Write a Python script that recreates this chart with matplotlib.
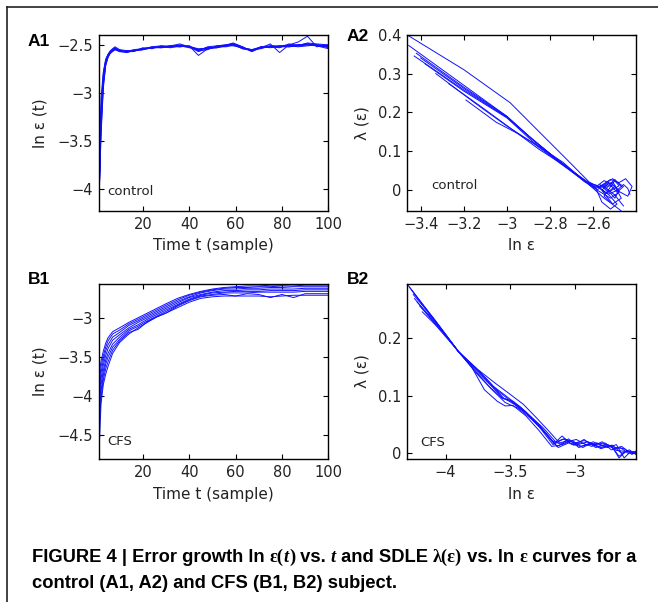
import numpy as np
import matplotlib
matplotlib.use('Agg')
import matplotlib.pyplot as plt
from matplotlib.ticker import FuncFormatter
from matplotlib.lines import Line2D

# ---- data ----
# A1: error growth, control subject
t_a1 = [1, 2, 3, 4, 5, 6, 8, 10, 13, 16, 20, 24, 28, 32, 36, 40, 44, 48, 52, 56,
        59, 63, 67, 71, 75, 79, 83, 87, 91, 95, 100]
a1_curves = [
    [-4.23, -3.25, -2.85, -2.68, -2.61, -2.57, -2.53, -2.56, -2.57, -2.56, -2.54, -2.53, -2.52, -2.52, -2.51, -2.52,
     -2.55, -2.53, -2.52, -2.51, -2.49, -2.53, -2.56, -2.53, -2.52, -2.52, -2.51, -2.50, -2.49, -2.50, -2.51],
    [-4.23, -3.35, -2.90, -2.70, -2.62, -2.58, -2.54, -2.57, -2.58, -2.56, -2.55, -2.53, -2.53, -2.51, -2.52, -2.51,
     -2.61, -2.54, -2.53, -2.51, -2.50, -2.54, -2.55, -2.52, -2.53, -2.51, -2.52, -2.51, -2.50, -2.51, -2.52],
    [-4.23, -3.15, -2.80, -2.66, -2.60, -2.56, -2.52, -2.55, -2.56, -2.57, -2.53, -2.54, -2.51, -2.52, -2.50, -2.52,
     -2.56, -2.55, -2.51, -2.50, -2.48, -2.52, -2.57, -2.53, -2.49, -2.58, -2.50, -2.47, -2.41, -2.52, -2.50],
    [-4.23, -3.45, -2.95, -2.72, -2.63, -2.59, -2.55, -2.57, -2.57, -2.55, -2.54, -2.52, -2.53, -2.52, -2.51, -2.53,
     -2.55, -2.53, -2.52, -2.52, -2.50, -2.53, -2.55, -2.54, -2.51, -2.52, -2.51, -2.52, -2.51, -2.50, -2.53],
    [-4.23, -3.05, -2.78, -2.65, -2.60, -2.57, -2.54, -2.55, -2.58, -2.56, -2.55, -2.53, -2.52, -2.51, -2.49, -2.52,
     -2.56, -2.52, -2.51, -2.50, -2.49, -2.54, -2.56, -2.52, -2.52, -2.53, -2.49, -2.51, -2.48, -2.49, -2.50],
    [-4.23, -3.30, -2.88, -2.69, -2.62, -2.58, -2.55, -2.56, -2.57, -2.57, -2.54, -2.53, -2.52, -2.53, -2.51, -2.52,
     -2.54, -2.54, -2.52, -2.51, -2.51, -2.53, -2.56, -2.53, -2.52, -2.52, -2.52, -2.51, -2.50, -2.51, -2.54],
    [-4.23, -3.20, -2.83, -2.67, -2.61, -2.57, -2.53, -2.57, -2.56, -2.56, -2.55, -2.52, -2.51, -2.52, -2.52, -2.51,
     -2.55, -2.53, -2.53, -2.50, -2.49, -2.52, -2.57, -2.52, -2.51, -2.51, -2.50, -2.50, -2.49, -2.50, -2.51],
    [-4.23, -3.40, -2.92, -2.71, -2.63, -2.58, -2.54, -2.56, -2.57, -2.56, -2.54, -2.53, -2.52, -2.51, -2.51, -2.52,
     -2.57, -2.54, -2.52, -2.51, -2.50, -2.53, -2.55, -2.53, -2.52, -2.52, -2.51, -2.50, -2.49, -2.51, -2.52],
]

# A2: SDLE vs ln eps, control subject (x, y per curve)
a2_x = [
    [-3.465, -3.20, -2.985, -2.85, -2.72, -2.62, -2.57, -2.53, -2.49, -2.46, -2.44, -2.43],
    [-3.455, -3.20, -3.00, -2.90, -2.78, -2.66, -2.59, -2.55, -2.51, -2.48, -2.50, -2.54, -2.50, -2.47],
    [-3.42, -3.20, -3.00, -2.88, -2.76, -2.64, -2.58, -2.53, -2.49, -2.46, -2.50, -2.55, -2.52],
    [-3.40, -3.20, -3.00, -2.87, -2.74, -2.63, -2.57, -2.52, -2.48, -2.45, -2.42, -2.44, -2.49],
    [-3.38, -3.20, -3.00, -2.88, -2.75, -2.63, -2.58, -2.54, -2.50, -2.47, -2.51, -2.56, -2.53],
    [-3.33, -3.15, -3.00, -2.88, -2.75, -2.63, -2.58, -2.52, -2.48, -2.51, -2.55, -2.50, -2.46],
    [-3.27, -3.12, -2.95, -2.85, -2.74, -2.65, -2.59, -2.55, -2.51, -2.48, -2.53, -2.57, -2.54],
    [-3.19, -3.05, -2.95, -2.85, -2.74, -2.64, -2.59, -2.56, -2.52, -2.49, -2.53, -2.58, -2.50],
    [-3.43, -3.20, -3.00, -2.88, -2.76, -2.65, -2.60, -2.55, -2.50, -2.47],
]
a2_y = [
    [0.400, 0.310, 0.225, 0.150, 0.078, 0.022, 0.005, -0.010, 0.000, 0.015, 0.005, -0.010],
    [0.372, 0.270, 0.190, 0.140, 0.085, 0.035, 0.008, 0.025, 0.015, 0.000, -0.020, 0.005, 0.028, 0.010],
    [0.352, 0.265, 0.190, 0.130, 0.075, 0.025, 0.002, 0.020, -0.005, 0.010, 0.025, -0.015, -0.030],
    [0.340, 0.262, 0.188, 0.125, 0.068, 0.020, 0.010, 0.028, 0.020, 0.030, 0.010, -0.015, 0.000],
    [0.325, 0.255, 0.186, 0.125, 0.070, 0.022, 0.012, -0.008, 0.010, -0.020, -0.035, 0.000, 0.018],
    [0.300, 0.225, 0.165, 0.122, 0.068, 0.020, 0.000, -0.020, -0.005, 0.022, 0.010, -0.012, -0.040],
    [0.274, 0.215, 0.146, 0.112, 0.072, 0.028, 0.005, 0.015, 0.030, 0.012, -0.005, 0.015, 0.005],
    [0.232, 0.175, 0.146, 0.105, 0.066, 0.022, 0.008, -0.030, -0.048, -0.035, -0.010, 0.010, 0.012],
    [0.345, 0.258, 0.188, 0.130, 0.075, 0.028, 0.005, -0.020, -0.040, -0.053],
]

# B1: error growth, CFS subject
t_b1 = [1, 2, 3, 4, 5, 7, 10, 14, 18, 22, 26, 30, 35, 40, 45, 50, 55, 60, 65, 70, 75, 80, 85, 90, 95, 100]
b1_curves = [
    [-3.75, -3.55, -3.42, -3.32, -3.25, -3.17, -3.12, -3.05, -2.99, -2.93, -2.87, -2.81, -2.74, -2.69, -2.65,
     -2.62, -2.60, -2.59, -2.58, -2.58, -2.57, -2.57, -2.56, -2.56, -2.55, -2.56],
    [-3.90, -3.62, -3.48, -3.37, -3.29, -3.20, -3.15, -3.07, -3.01, -2.95, -2.89, -2.83, -2.76, -2.70, -2.66,
     -2.63, -2.61, -2.60, -2.60, -2.59, -2.59, -2.58, -2.58, -2.57, -2.57, -2.57],
    [-4.00, -3.70, -3.54, -3.42, -3.34, -3.24, -3.18, -3.09, -3.03, -2.97, -2.91, -2.85, -2.78, -2.72, -2.67,
     -2.64, -2.62, -2.62, -2.61, -2.61, -2.60, -2.60, -2.59, -2.59, -2.59, -2.59],
    [-4.10, -3.78, -3.60, -3.48, -3.39, -3.28, -3.21, -3.12, -3.05, -2.99, -2.93, -2.87, -2.80, -2.73, -2.69,
     -2.66, -2.64, -2.64, -2.63, -2.63, -2.62, -2.62, -2.62, -2.61, -2.61, -2.61],
    [-4.20, -3.86, -3.67, -3.54, -3.45, -3.33, -3.24, -3.14, -3.08, -3.01, -2.95, -2.89, -2.82, -2.75, -2.70,
     -2.67, -2.66, -2.65, -2.65, -2.65, -2.64, -2.64, -2.64, -2.63, -2.63, -2.63],
    [-4.30, -3.94, -3.73, -3.59, -3.50, -3.37, -3.27, -3.16, -3.10, -3.03, -2.97, -2.91, -2.83, -2.76, -2.71,
     -2.69, -2.67, -2.67, -2.67, -2.66, -2.66, -2.66, -2.66, -2.65, -2.65, -2.65],
    [-4.50, -4.02, -3.79, -3.65, -3.56, -3.41, -3.29, -3.18, -3.14, -3.04, -2.98, -2.93, -2.84, -2.77, -2.72,
     -2.70, -2.69, -2.71, -2.68, -2.69, -2.73, -2.69, -2.73, -2.68, -2.68, -2.68],
    [-4.82, -4.10, -3.85, -3.72, -3.62, -3.45, -3.31, -3.20, -3.12, -3.05, -2.98, -2.93, -2.86, -2.79, -2.74,
     -2.72, -2.71, -2.71, -2.71, -2.71, -2.72, -2.71, -2.70, -2.70, -2.70, -2.70],
]

# B2: SDLE vs ln eps, CFS subject
b2_x = [
    [-4.30, -4.10, -3.90, -3.75, -3.62, -3.50, -3.40, -3.30, -3.20, -3.12, -3.05, -2.98, -2.90, -2.82, -2.75, -2.68, -2.60, -2.53],
    [-4.26, -4.10, -3.90, -3.75, -3.65, -3.55, -3.45, -3.35, -3.25, -3.15, -3.08, -3.00, -2.93, -2.85, -2.77, -2.70, -2.64, -2.58, -2.53],
    [-4.24, -4.05, -3.90, -3.78, -3.68, -3.55, -3.50, -3.40, -3.30, -3.20, -3.13, -3.05, -2.96, -2.88, -2.80, -2.72, -2.66, -2.60, -2.53],
    [-4.18, -4.00, -3.90, -3.80, -3.70, -3.60, -3.54, -3.48, -3.38, -3.28, -3.18, -3.12, -3.05, -2.97, -2.88, -2.80, -2.72, -2.66, -2.60, -2.53],
    [-4.22, -4.05, -3.90, -3.78, -3.66, -3.56, -3.48, -3.38, -3.28, -3.18, -3.10, -3.02, -2.94, -2.86, -2.78, -2.71, -2.64, -2.58, -2.53],
    [-4.28, -4.10, -3.90, -3.76, -3.64, -3.54, -3.44, -3.34, -3.24, -3.16, -3.09, -3.01, -2.93, -2.84, -2.76, -2.69, -2.62, -2.56, -2.53],
    [-4.20, -4.05, -3.90, -3.77, -3.66, -3.57, -3.47, -3.37, -3.27, -3.17, -3.10, -3.03, -2.95, -2.87, -2.79, -2.72, -2.65, -2.59, -2.53],
    [-4.25, -4.08, -3.90, -3.74, -3.63, -3.52, -3.42, -3.32, -3.22, -3.14, -3.06, -2.99, -2.91, -2.83, -2.75, -2.68, -2.62, -2.57, -2.53],
]
b2_y = [
    [0.294, 0.235, 0.176, 0.145, 0.122, 0.102, 0.085, 0.062, 0.038, 0.018, 0.022, 0.015, 0.020, 0.012, 0.015, 0.005, 0.003, 0.002],
    [0.282, 0.236, 0.176, 0.140, 0.118, 0.100, 0.082, 0.065, 0.045, 0.020, 0.025, 0.018, 0.022, 0.015, 0.018, 0.008, 0.012, 0.002, 0.003],
    [0.268, 0.215, 0.176, 0.150, 0.128, 0.095, 0.092, 0.075, 0.052, 0.028, 0.010, 0.018, 0.012, 0.016, 0.010, 0.013, -0.005, 0.004, 0.001],
    [0.245, 0.205, 0.176, 0.150, 0.110, 0.090, 0.082, 0.083, 0.065, 0.040, 0.012, 0.014, 0.025, 0.010, 0.018, 0.008, 0.014, -0.008, 0.005, 0.000],
    [0.262, 0.220, 0.176, 0.145, 0.115, 0.095, 0.090, 0.072, 0.050, 0.022, 0.015, 0.022, 0.010, 0.020, 0.012, 0.014, 0.000, 0.006, -0.002],
    [0.288, 0.234, 0.176, 0.138, 0.110, 0.088, 0.078, 0.060, 0.038, 0.016, 0.025, 0.014, 0.024, 0.010, 0.016, 0.010, 0.008, -0.002, 0.004],
    [0.255, 0.218, 0.176, 0.148, 0.120, 0.098, 0.085, 0.068, 0.044, 0.015, 0.030, 0.016, 0.018, 0.012, 0.020, 0.006, 0.010, 0.000, 0.002],
    [0.275, 0.230, 0.176, 0.142, 0.116, 0.097, 0.080, 0.058, 0.034, 0.012, 0.020, 0.024, 0.014, 0.018, 0.010, 0.015, -0.008, 0.003, 0.000],
]

xticks_t = [20, 40, 60, 80, 100]
yticks_a1 = [-4, -3.5, -3, -2.5]
xticks_a2 = [-3.4, -3.2, -3, -2.8, -2.6]
yticks_a2 = [0, 0.1, 0.2, 0.3, 0.4]
yticks_b1 = [-4.5, -4, -3.5, -3]
xticks_b2 = [-4, -3.5, -3]
yticks_b2 = [0, 0.1, 0.2]

LINE = '#1010ff'
TXT = '#222222'

fig = plt.figure(figsize=(6.58, 6.02), dpi=100)

fmt = FuncFormatter(lambda v, p: ('%g' % v).replace('-', '\u2212'))


def style(ax, xlim, ylim, xt, yt, xlabel, ylabel, ylab_x, tag):
    ax.set_xlim(xlim)
    ax.set_ylim(ylim)
    ax.set_xticks(xt)
    ax.set_yticks(yt)
    ax.xaxis.set_major_formatter(fmt)
    ax.yaxis.set_major_formatter(fmt)
    ax.tick_params(direction='in', top=True, right=True, length=3.5, width=0.8,
                   labelsize=10.5, labelcolor=TXT, pad=4)
    for s in ax.spines.values():
        s.set_linewidth(1.0)
    ax.set_xlabel(xlabel, fontsize=11, color=TXT)
    ax.set_ylabel(ylabel, fontsize=11, color=TXT)
    ax.xaxis.set_label_coords(0.5, -0.155)
    ax.yaxis.set_label_coords(ylab_x, 0.5)
    ax.text(tag[1], tag[2], tag[0], transform=ax.transAxes, fontsize=9.5, color=TXT)


ax1 = fig.add_axes([0.150, 0.6495, 0.349, 0.293])
for c in a1_curves:
    ax1.plot(t_a1, c, color=LINE, lw=0.7)
style(ax1, (1, 100), (-4.233, -2.393), xticks_t, yticks_a1, 'Time t (sample)', 'ln \u03b5 (t)', -0.225,
      ('control', 0.037, 0.09))

ax2 = fig.add_axes([0.618, 0.6495, 0.3485, 0.293])
for xs, ys in zip(a2_x, a2_y):
    ax2.plot(xs, ys, color=LINE, lw=0.7)
style(ax2, (-3.465, -2.402), (-0.053, 0.4), xticks_a2, yticks_a2, 'ln \u03b5', '\u03bb (\u03b5)', -0.163,
      ('control', 0.109, 0.123))

ax3 = fig.add_axes([0.150, 0.237, 0.349, 0.292])
for c in b1_curves:
    ax3.plot(t_b1, c, color=LINE, lw=0.7)
style(ax3, (1, 100), (-4.817, -2.549), xticks_t, yticks_b1, 'Time t (sample)', 'ln \u03b5 (t)', -0.225,
      ('CFS', 0.037, 0.081))

ax4 = fig.add_axes([0.618, 0.237, 0.3485, 0.292])
for xs, ys in zip(b2_x, b2_y):
    ax4.plot(xs, ys, color=LINE, lw=0.7)
style(ax4, (-4.301, -2.529), (-0.0104, 0.294), xticks_b2, yticks_b2, 'ln \u03b5', '\u03bb (\u03b5)', -0.163,
      ('CFS', 0.058, 0.076))

# panel tags
for lab, x, y in [('A1', 0.0426, 0.9236), ('A2', 0.526, 0.932), ('B1', 0.0426, 0.528), ('B2', 0.527, 0.528)]:
    fig.text(x, y, lab, fontsize=12.5, fontweight='bold', family=['Liberation Sans', 'DejaVu Sans'],
             va='baseline')

# overlay axes for frame and caption
cap = fig.add_axes([0, 0, 1, 1])
cap.axis('off')
cap.set_xlim(0, 1)
cap.set_ylim(0, 1)
x0, y0 = 7 / 658, 1 - 7 / 602
cap.add_line(Line2D([x0, 1], [y0, y0], color='#222222', lw=1.2))
cap.add_line(Line2D([x0, x0], [0, y0], color='#222222', lw=1.2))

sans = ['Liberation Sans Narrow', 'Liberation Sans', 'DejaVu Sans']
serif = ['Liberation Serif', 'DejaVu Serif']
pieces = [
    ('FIGURE 4 | Error growth ln ', sans, 'normal'),
    ('\u03b5(', serif, 'normal'),
    ('t', serif, 'italic'),
    (')', serif, 'normal'),
    (' vs. ', sans, 'normal'),
    ('t', serif, 'italic'),
    (' and SDLE ', sans, 'normal'),
    ('\u03bb(\u03b5)', serif, 'normal'),
    (' vs. ln ', sans, 'normal'),
    ('\u03b5', serif, 'normal'),
    (' curves for a', sans, 'normal'),
]
prev = None
for s, fam, sty in pieces:
    if prev is None:
        prev = cap.text(32 / 658, 1 - 562 / 602, s, family=fam, style=sty, fontsize=13.2,
                        fontweight='bold', va='baseline', ha='left')
    else:
        prev = cap.annotate(s, xy=(1, 0), xycoords=prev, family=fam, style=sty, fontsize=13.2,
                            fontweight='bold', va='bottom', ha='left')
cap.text(32 / 658, 1 - 588 / 602, 'control (A1, A2) and CFS (B1, B2) subject.', family=sans,
         fontsize=13.2, fontweight='bold', va='baseline', ha='left')

fig.savefig('out.png', dpi=100)
